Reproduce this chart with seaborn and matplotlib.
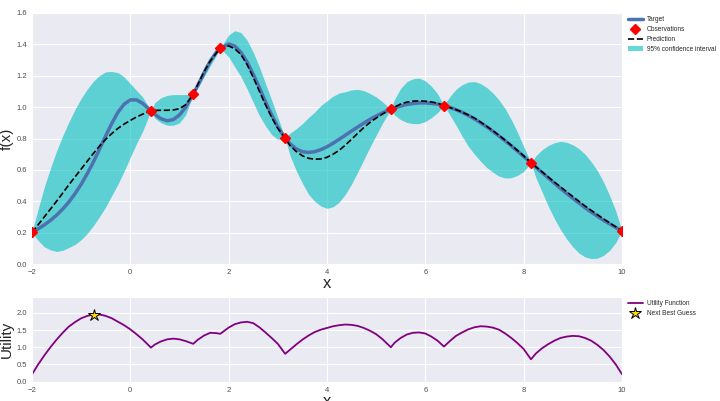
import numpy as np
import pandas as pd
import matplotlib
matplotlib.use("Agg")
import matplotlib.pyplot as plt
import seaborn as sns

# values
x_grid = [-2.0, -1.875, -1.75, -1.625, -1.5, -1.375, -1.25, -1.125,
          -1.0, -0.875, -0.75, -0.625, -0.5, -0.375, -0.25, -0.125,
          0.0, 0.125, 0.25, 0.42, 0.5, 0.625, 0.75, 0.875,
          1.0, 1.125, 1.28, 1.375, 1.5, 1.625, 1.75, 1.83,
          2.0, 2.125, 2.25, 2.375, 2.5, 2.625, 2.75, 2.875,
          3.0, 3.15, 3.25, 3.375, 3.5, 3.625, 3.75, 3.875,
          4.0, 4.125, 4.25, 4.375, 4.5, 4.625, 4.75, 4.875,
          5.0, 5.125, 5.3, 5.375, 5.5, 5.625, 5.75, 5.875,
          6.0, 6.125, 6.25, 6.38, 6.5, 6.625, 6.75, 6.875,
          7.0, 7.125, 7.25, 7.375, 7.5, 7.625, 7.75, 7.875,
          8.0, 8.15, 8.25, 8.375, 8.5, 8.625, 8.75, 8.875,
          9.0, 9.125, 9.25, 9.375, 9.5, 9.625, 9.75, 9.875,
          10.0]

target = [0.202, 0.224, 0.249, 0.278, 0.311, 0.350, 0.395, 0.448,
          0.508, 0.576, 0.651, 0.733, 0.817, 0.897, 0.968, 1.019,
          1.046, 1.046, 1.024, 0.977, 0.954, 0.926, 0.913, 0.921,
          0.950, 0.999, 1.082, 1.140, 1.218, 1.291, 1.350, 1.376,
          1.402, 1.389, 1.349, 1.288, 1.210, 1.124, 1.034, 0.950,
          0.874, 0.802, 0.766, 0.734, 0.716, 0.711, 0.716, 0.729,
          0.747, 0.770, 0.795, 0.821, 0.848, 0.873, 0.898, 0.922,
          0.943, 0.963, 0.987, 0.995, 1.007, 1.017, 1.023, 1.027,
          1.027, 1.024, 1.019, 1.010, 0.998, 0.984, 0.967, 0.947,
          0.925, 0.900, 0.874, 0.846, 0.816, 0.785, 0.753, 0.720,
          0.686, 0.645, 0.617, 0.583, 0.549, 0.515, 0.482, 0.450,
          0.419, 0.389, 0.359, 0.331, 0.305, 0.279, 0.256, 0.233,
          0.212]

prediction = [0.202, 0.25, 0.30, 0.35, 0.40, 0.452, 0.505, 0.555,
              0.605, 0.655, 0.705, 0.752, 0.795, 0.832, 0.865, 0.892,
              0.915, 0.937, 0.955, 0.977, 0.979, 0.980, 0.980, 0.982,
              0.990, 1.015, 1.082, 1.145, 1.225, 1.293, 1.345, 1.376,
              1.390, 1.372, 1.335, 1.272, 1.190, 1.102, 1.015, 0.935,
              0.865, 0.802, 0.755, 0.717, 0.690, 0.674, 0.668, 0.670,
              0.680, 0.700, 0.725, 0.758, 0.795, 0.833, 0.870, 0.902,
              0.930, 0.955, 0.987, 1.000, 1.020, 1.032, 1.038, 1.040,
              1.038, 1.033, 1.025, 1.010, 0.997, 0.984, 0.968, 0.950,
              0.930, 0.905, 0.878, 0.850, 0.820, 0.789, 0.757, 0.724,
              0.690, 0.645, 0.620, 0.588, 0.555, 0.523, 0.492, 0.461,
              0.430, 0.400, 0.370, 0.342, 0.315, 0.288, 0.262, 0.237,
              0.212]

upper = [0.202, 0.35, 0.49, 0.61, 0.72, 0.817, 0.905, 0.985,
         1.055, 1.115, 1.165, 1.202, 1.225, 1.227, 1.22, 1.192,
         1.15, 1.107, 1.065, 0.977, 1.029, 1.06, 1.075, 1.08,
         1.08, 1.08, 1.082, 1.167, 1.257, 1.323, 1.36, 1.376,
         1.46, 1.487, 1.475, 1.427, 1.35, 1.257, 1.15, 1.045,
         0.935, 0.802, 0.835, 0.862, 0.895, 0.934, 0.968, 1.01,
         1.04, 1.07, 1.09, 1.098, 1.11, 1.113, 1.105, 1.087,
         1.065, 1.035, 0.987, 1.05, 1.12, 1.162, 1.181, 1.185,
         1.168, 1.133, 1.085, 1.010, 1.067, 1.114, 1.143, 1.16,
         1.163, 1.15, 1.125, 1.09, 1.045, 0.99, 0.92, 0.84,
         0.75, 0.645, 0.69, 0.728, 0.755, 0.773, 0.782, 0.776,
         0.76, 0.735, 0.70, 0.652, 0.595, 0.523, 0.437, 0.337,
         0.212]

lower = [0.202, 0.15, 0.11, 0.09, 0.08, 0.087, 0.105, 0.125,
         0.155, 0.195, 0.245, 0.302, 0.365, 0.437, 0.51, 0.592,
         0.68, 0.767, 0.845, 0.977, 0.929, 0.90, 0.885, 0.884,
         0.90, 0.95, 1.082, 1.123, 1.193, 1.263, 1.33, 1.376,
         1.32, 1.257, 1.195, 1.117, 1.03, 0.947, 0.88, 0.825,
         0.795, 0.802, 0.69, 0.595, 0.515, 0.445, 0.40, 0.37,
         0.355, 0.365, 0.395, 0.445, 0.51, 0.585, 0.665, 0.745,
         0.82, 0.895, 0.987, 0.95, 0.92, 0.902, 0.895, 0.895,
         0.908, 0.933, 0.965, 1.010, 0.95, 0.885, 0.815, 0.75,
         0.70, 0.655, 0.615, 0.585, 0.56, 0.548, 0.55, 0.565,
         0.59, 0.645, 0.55, 0.46, 0.37, 0.29, 0.22, 0.16,
         0.11, 0.07, 0.045, 0.035, 0.037, 0.055, 0.087, 0.137,
         0.212]

utility = [0.21, 0.50, 0.76, 1.00, 1.22, 1.42, 1.60, 1.73,
           1.84, 1.91, 1.95, 1.95, 1.91, 1.84, 1.74, 1.64,
           1.52, 1.38, 1.23, 0.99, 1.08, 1.17, 1.23, 1.25,
           1.23, 1.18, 1.10, 1.22, 1.34, 1.42, 1.41, 1.39,
           1.57, 1.67, 1.72, 1.74, 1.70, 1.58, 1.43, 1.27,
           1.10, 0.81, 0.93, 1.08, 1.22, 1.34, 1.44, 1.51,
           1.56, 1.61, 1.64, 1.66, 1.65, 1.62, 1.56, 1.48,
           1.38, 1.24, 1.00, 1.13, 1.27, 1.37, 1.42, 1.43,
           1.40, 1.31, 1.19, 1.02, 1.18, 1.33, 1.43, 1.52,
           1.58, 1.61, 1.60, 1.57, 1.51, 1.40, 1.27, 1.12,
           0.95, 0.65, 0.82, 0.97, 1.09, 1.19, 1.27, 1.31,
           1.33, 1.32, 1.27, 1.19, 1.07, 0.92, 0.73, 0.50,
           0.22]

x_obs = [-2.0, 0.42, 1.28, 1.83, 3.15, 5.3, 6.38, 8.15, 10.0]
y_obs = [0.202, 0.977, 1.082, 1.376, 0.802, 0.987, 1.010, 0.645, 0.212]

next_x = -0.73
next_u = 1.95

df = pd.DataFrame({"x": x_grid, "target": target, "prediction": prediction,
                   "upper": upper, "lower": lower, "utility": utility})

sns.set_style("darkgrid")
plt.rcParams["font.family"] = ["Liberation Sans", "DejaVu Sans"]

fig = plt.figure(figsize=(7.2, 4.01), dpi=100)
ax = fig.add_axes([0.0444, 0.3416, 0.8194, 0.626])
acq = fig.add_axes([0.0444, 0.0481, 0.8194, 0.2105])

# top panel: target, observations, GP prediction and its band
sns.lineplot(data=df, x="x", y="target", ax=ax, color="#4C72B0", lw=2.5, label="Target", zorder=3)
ax.plot(x_obs, y_obs, "D", ms=5, color="r", label="Observations", zorder=5)
sns.lineplot(data=df, x="x", y="prediction", ax=ax, color="k", lw=1.2, linestyle="--",
             label="Prediction", zorder=4)
ax.fill_between(df["x"], df["lower"], df["upper"], color="c", alpha=0.6, lw=0,
                label="95% confidence interval", zorder=2)

ax.set_xlim(-2, 10)
ax.set_ylim(0, 1.6)
ax.set_yticks(np.arange(0, 1.61, 0.2))
ax.set_ylabel("f(x)", fontsize=11, labelpad=2)
ax.set_xlabel("x", fontsize=12, labelpad=0)
ax.tick_params(labelsize=5.5, labelcolor="0.3", length=0, pad=3.5)
ax.legend(loc="upper left", bbox_to_anchor=(1.005, 1.0), borderaxespad=0.05, frameon=False,
          fontsize=4.7, labelspacing=0.45, handlelength=2.3, handletextpad=0.6)

# bottom panel: utility
sns.lineplot(data=df, x="x", y="utility", ax=acq, color="purple", lw=1.3, label="Utility Function")
acq.plot([next_x], [next_u], "*", ms=9, mfc="gold", mec="k", mew=0.7, label="Next Best Guess")
acq.set_xlim(-2, 10)
acq.set_ylim(0, 2.45)
acq.set_yticks([0.0, 0.5, 1.0, 1.5, 2.0])
acq.set_ylabel("Utility", fontsize=11, labelpad=2)
acq.set_xlabel("x", fontsize=12, labelpad=0)
acq.tick_params(labelsize=5.5, labelcolor="0.3", length=0, pad=3.5)
acq.legend(loc="upper left", bbox_to_anchor=(1.005, 1.0), borderaxespad=0.05, frameon=False,
           fontsize=4.7, labelspacing=0.45, handlelength=2.3, handletextpad=0.6)

fig.savefig("out.png", dpi=100)
